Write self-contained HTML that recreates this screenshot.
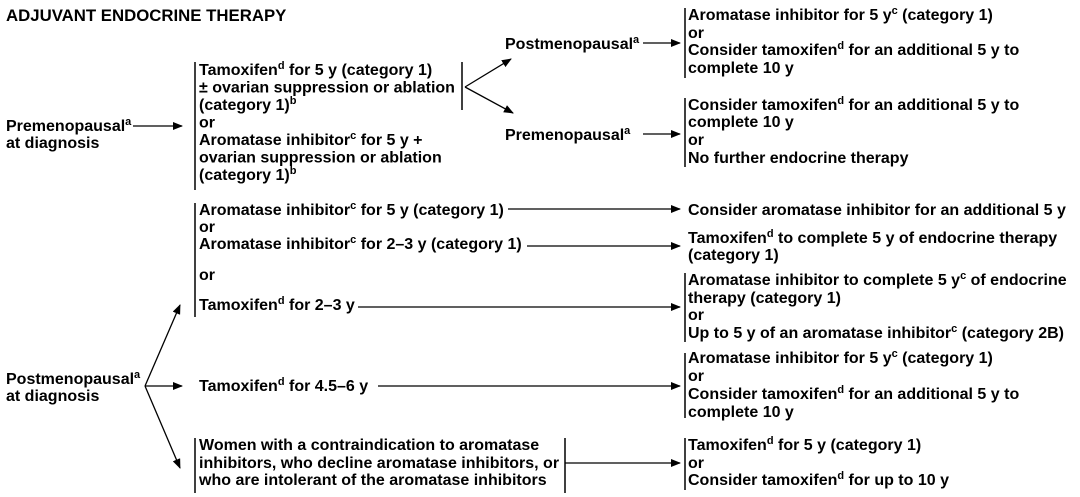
<!DOCTYPE html>
<html><head><meta charset="utf-8"><style>
html,body{margin:0;padding:0;background:#fff;}
svg{display:block;}
text{font-family:"Liberation Sans",Arial,sans-serif;font-weight:bold;font-size:16px;fill:#000;}
.s{font-size:11px;}
.t{font-size:16.8px;}
</style></head><body>
<svg width="1080" height="497" viewBox="0 0 1080 497" xmlns="http://www.w3.org/2000/svg">
<defs><marker id="a" markerWidth="10" markerHeight="8" refX="9" refY="4" orient="auto" markerUnits="userSpaceOnUse"><path d="M0,0 L10,4 L0,8 Z" fill="#000"/></marker></defs>
<g stroke="#000" stroke-width="1.5" fill="none">
<line x1="195" y1="62" x2="195" y2="190"/>
<line x1="462" y1="62" x2="462" y2="110"/>
<line x1="685" y1="8" x2="685" y2="78"/>
<line x1="685" y1="98" x2="685" y2="167"/>
<line x1="195" y1="203" x2="195" y2="317"/>
<line x1="685" y1="273" x2="685" y2="342"/>
<line x1="685" y1="353" x2="685" y2="418"/>
<line x1="195" y1="438" x2="195" y2="493"/>
<line x1="565" y1="438" x2="565" y2="493"/>
<line x1="685" y1="438" x2="685" y2="490"/>
</g>
<g stroke="#000" stroke-width="1.3" fill="none" marker-end="url(#a)">
<line x1="133" y1="126" x2="182" y2="126"/>
<line x1="465" y1="87" x2="511" y2="59"/>
<line x1="465" y1="87" x2="513" y2="113"/>
<line x1="643" y1="43" x2="680" y2="43"/>
<line x1="643" y1="134" x2="680" y2="134"/>
<line x1="508" y1="209" x2="680" y2="209"/>
<line x1="527" y1="246" x2="680" y2="246"/>
<line x1="358" y1="307" x2="680" y2="307"/>
<line x1="378" y1="386" x2="680" y2="386"/>
<line x1="565" y1="463" x2="680" y2="463"/>
<line x1="145" y1="386" x2="180" y2="305"/>
<line x1="145" y1="386" x2="182" y2="386"/>
<line x1="145" y1="386" x2="180" y2="468"/>
</g>
<text class="t" x="6" y="21">ADJUVANT ENDOCRINE THERAPY</text>
<text x="6" y="131">Premenopausal<tspan class="s" dy="-6">a</tspan></text>
<text x="6" y="148">at diagnosis</text>
<text x="199" y="75">Tamoxifen<tspan class="s" dy="-6">d</tspan><tspan dy="6"> for 5 y (category 1)</tspan></text>
<text x="199" y="92.5">± ovarian suppression or ablation</text>
<text x="199" y="110">(category 1)<tspan class="s" dy="-6">b</tspan></text>
<text x="199" y="127.5">or</text>
<text x="199" y="145">Aromatase inhibitor<tspan class="s" dy="-6">c</tspan><tspan dy="6"> for 5 y +</tspan></text>
<text x="199" y="162.5">ovarian suppression or ablation</text>
<text x="199" y="180">(category 1)<tspan class="s" dy="-6">b</tspan></text>
<text x="505" y="49">Postmenopausal<tspan class="s" dy="-6">a</tspan></text>
<text x="505" y="140">Premenopausal<tspan class="s" dy="-6">a</tspan></text>
<text x="688" y="20">Aromatase inhibitor for 5 y<tspan class="s" dy="-6">c</tspan><tspan dy="6"> (category 1)</tspan></text>
<text x="688" y="38">or</text>
<text x="688" y="55">Consider tamoxifen<tspan class="s" dy="-6">d</tspan><tspan dy="6"> for an additional 5 y to</tspan></text>
<text x="688" y="73">complete 10 y</text>
<text x="688" y="110">Consider tamoxifen<tspan class="s" dy="-6">d</tspan><tspan dy="6"> for an additional 5 y to</tspan></text>
<text x="688" y="127">complete 10 y</text>
<text x="688" y="145">or</text>
<text x="688" y="163">No further endocrine therapy</text>
<text x="199" y="215">Aromatase inhibitor<tspan class="s" dy="-6">c</tspan><tspan dy="6"> for 5 y (category 1)</tspan></text>
<text x="199" y="232">or</text>
<text x="199" y="249">Aromatase inhibitor<tspan class="s" dy="-6">c</tspan><tspan dy="6"> for 2–3 y (category 1)</tspan></text>
<text x="199" y="280">or</text>
<text x="199" y="310">Tamoxifen<tspan class="s" dy="-6">d</tspan><tspan dy="6"> for 2–3 y</tspan></text>
<text x="688" y="215">Consider aromatase inhibitor for an additional 5 y</text>
<text x="688" y="243">Tamoxifen<tspan class="s" dy="-6">d</tspan><tspan dy="6"> to complete 5 y of endocrine therapy</tspan></text>
<text x="688" y="260">(category 1)</text>
<text x="688" y="285">Aromatase inhibitor to complete 5 y<tspan class="s" dy="-6">c</tspan><tspan dy="6"> of endocrine</tspan></text>
<text x="688" y="303">therapy (category 1)</text>
<text x="688" y="320">or</text>
<text x="688" y="338">Up to 5 y of an aromatase inhibitor<tspan class="s" dy="-6">c</tspan><tspan dy="6"> (category 2B)</tspan></text>
<text x="6" y="384">Postmenopausal<tspan class="s" dy="-6">a</tspan></text>
<text x="6" y="401">at diagnosis</text>
<text x="199" y="391">Tamoxifen<tspan class="s" dy="-6">d</tspan><tspan dy="6"> for 4.5–6 y</tspan></text>
<text x="688" y="363">Aromatase inhibitor for 5 y<tspan class="s" dy="-6">c</tspan><tspan dy="6"> (category 1)</tspan></text>
<text x="688" y="381">or</text>
<text x="688" y="399">Consider tamoxifen<tspan class="s" dy="-6">d</tspan><tspan dy="6"> for an additional 5 y to</tspan></text>
<text x="688" y="417">complete 10 y</text>
<text x="199" y="450">Women with a contraindication to aromatase</text>
<text x="199" y="468">inhibitors, who decline aromatase inhibitors, or</text>
<text x="199" y="485">who are intolerant of the aromatase inhibitors</text>
<text x="688" y="450">Tamoxifen<tspan class="s" dy="-6">d</tspan><tspan dy="6"> for 5 y (category 1)</tspan></text>
<text x="688" y="468">or</text>
<text x="688" y="485">Consider tamoxifen<tspan class="s" dy="-6">d</tspan><tspan dy="6"> for up to 10 y</tspan></text>
</svg>
</body></html>
